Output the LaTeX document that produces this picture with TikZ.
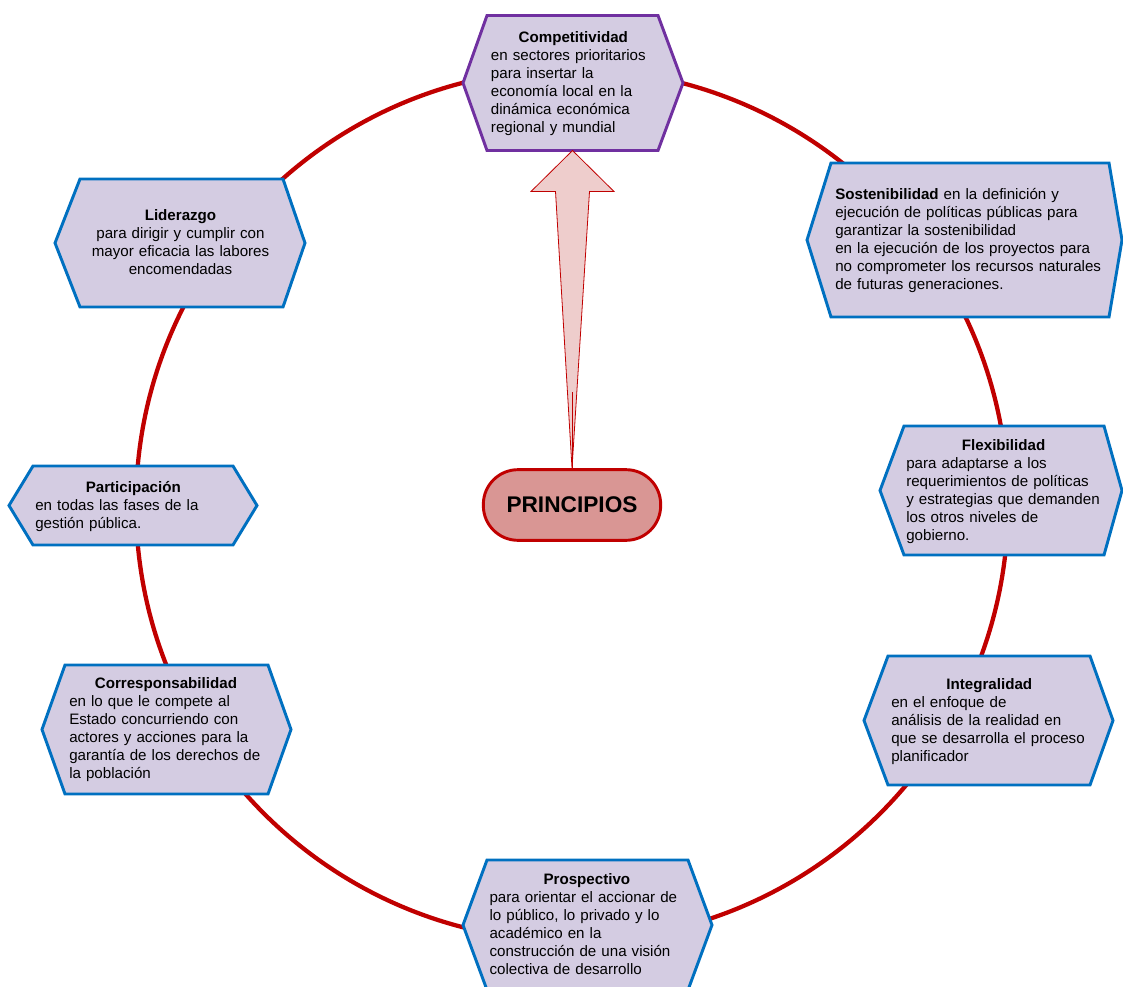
\documentclass[tikz,border=0pt]{standalone}
\usepackage{fontspec}
\setmainfont{Liberation Sans}
\usepackage{xcolor}
\usepackage{tikz}
\usetikzlibrary{positioning,calc}
\setlength{\parindent}{0pt}

\definecolor{lila}{RGB}{212,204,226}
\definecolor{azulb}{RGB}{0,112,192}
\definecolor{morado}{RGB}{112,48,160}
\definecolor{rojo}{RGB}{192,0,0}
\definecolor{rosa}{RGB}{217,150,148}
\definecolor{rosaclaro}{RGB}{238,205,204}

% centred bold title line of a box
\newcommand{\tit}[2]{\hbox to #1{\hss\rule{0pt}{8.2pt}\smash{\bfseries #2}\hss}\par}
% hexagon: [colour]{name}{cx}{cy}{half width}{half height}{left point}{right point}
\newcommand{\hexa}[8][azulb]{%
  \draw[hexborde,draw=#1] (#3-#5-#7,#4) -- (#3-#5,#4-#6) -- (#3+#5,#4-#6)
    -- (#3+#5+#8,#4) -- (#3+#5,#4+#6) -- (#3-#5,#4+#6) -- cycle;
  \coordinate (#2) at (#3,#4);
  \coordinate (#2-s) at (#3,#4+#6);}

\tikzset{
  hexborde/.style={fill=lila, line width=2.2pt, line join=miter},
  circulo/.style={draw=rojo, line width=3.2pt},
  principio/.style={draw=rojo, line width=2.2pt, fill=rosa, rounded corners=26pt,
    minimum width=133pt, minimum height=53pt,
    font=\fontsize{17}{20}\selectfont\bfseries},
  flecha/.style={draw=rojo, fill=rosaclaro, line width=0.6pt, line join=miter},
  texto/.style={font=\fontsize{11.35}{13.5}\selectfont, inner sep=0pt,
    align=left, anchor=north west, text width=180pt}
}

\begin{document}
\begin{tikzpicture}[x=0.75pt, y=-0.75pt]
  \useasboundingbox (0,0) rectangle (1123,987);
  \coordinate (centro) at (572,505);
  \draw[circulo] (centro) circle [radius=327pt];

  \hexa[morado]{comp}{572.5}{83}{85.5}{67.5}{24}{25}
  \hexa{sost}{970}{240}{139}{77}{24}{13}
  \hexa{lid}{181.5}{243}{101.5}{64}{25}{22}
  \hexa{part}{133}{505.5}{100}{39.5}{24}{24}
  \hexa{flex}{1004}{490.5}{100}{64.5}{24}{18}
  \hexa{corr}{166.5}{729.5}{101.5}{64.5}{23}{23}
  \hexa{integ}{989}{720.5}{101}{64.5}{24}{23}
  \hexa{prosp}{587.5}{925}{100.5}{65}{24}{24}

  \node[principio] (prin) at (centro) {PRINCIPIOS};
  \draw[flecha] (prin.north) -- ($(comp-s)+(17,41)$) -- ($(comp-s)+(41.5,41)$)
    -- (comp-s) -- ($(comp-s)+(-41.5,41)$) -- ($(comp-s)+(-17,41)$) -- cycle;
  \draw[rojo, line width=0.6pt] ($(prin.north)+(0,-76)$) -- (prin.north);

  \node[texto] (comp-t) at (490.7,31) {\tit{123.5pt}{Competitividad}en sectores prioritarios\\para insertar la\\economía local en la\\dinámica económica\\regional y mundial};
  \node[texto, text width=215pt] (sost-t) at (835,188) {\textbf{Sostenibilidad} en la definición y\\ejecución de políticas públicas para\\garantizar la  sostenibilidad\\en la ejecución de los proyectos para\\no comprometer los recursos naturales\\de futuras generaciones.};
  \node[texto, align=center, anchor=north] (lid-t) at (180.5,209) {\textbf{Liderazgo}\\para dirigir y cumplir con\\mayor eficacia las labores\\encomendadas};
  \node[texto] (part-t) at (35,481) {\tit{147pt}{Participación}en todas las fases de la\\gestión pública.};
  \node[texto] (flex-t) at (906,439) {\tit{146pt}{Flexibilidad}para adaptarse a los\\requerimientos de políticas\\y estrategias que demanden\\los otros niveles de\\gobierno.};
  \node[texto] (corr-t) at (69,677.5) {\tit{145pt}{Corresponsabilidad}en lo que le compete al\\Estado concurriendo con\\actores y acciones para la\\garantía de los derechos de\\la población};
  \node[texto] (integ-t) at (891,678) {\tit{147pt}{Integralidad}en el enfoque de\\análisis de la realidad en\\que se desarrolla el proceso\\planificador};
  \node[texto] (prosp-t) at (489.3,873.5) {\tit{146pt}{Prospectivo}para orientar el accionar de\\lo público, lo privado y lo\\académico en la\\construcción de una visión\\colectiva de desarrollo};
\end{tikzpicture}
\end{document}
